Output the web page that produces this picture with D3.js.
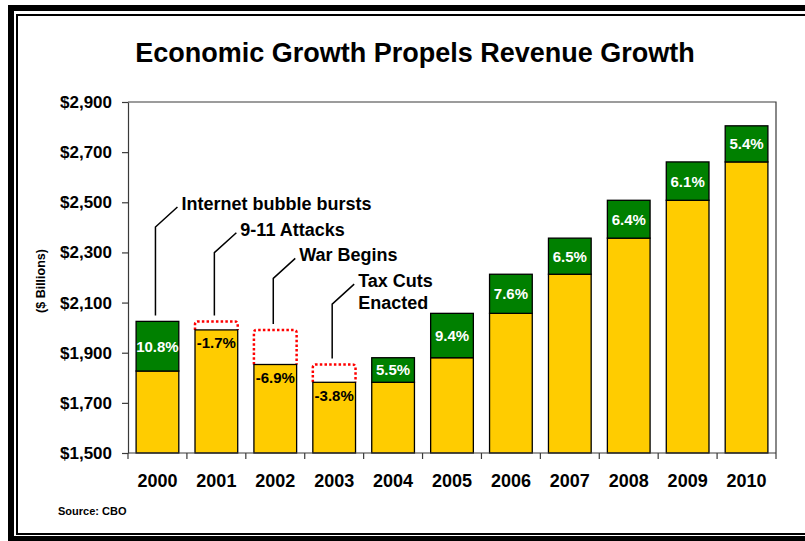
<!DOCTYPE html>
<html>
<head>
<meta charset="utf-8">
<script src="https://cdn.jsdelivr.net/npm/d3@7"></script>
<style>
  html, body { margin: 0; padding: 0; background: #fff; }
  svg { display: block; font-family: "Liberation Sans", Arial, sans-serif; font-weight: bold; }
</style>
</head>
<body>
<svg id="chart" width="805" height="541"></svg>
<script>
// Federal revenue, $ billions (year-end values; 1999 is the base for 2000 growth)
const years = ["2000", "2001", "2002", "2003", "2004", "2005", "2006", "2007", "2008", "2009", "2010"];
const baseRevenue = 1827;
const revenue = [2025, 1991, 1853, 1782, 1880, 2057, 2213, 2357, 2508, 2661, 2805];
const growthPct = [10.8, -1.7, -6.9, -3.8, 5.5, 9.4, 7.6, 6.5, 6.4, 6.1, 5.4];
const yTicks = [1500, 1700, 1900, 2100, 2300, 2500, 2700, 2900];
const callouts = [
  { year: "2000", lines: ["Internet bubble bursts"] },
  { year: "2001", lines: ["9-11 Attacks"] },
  { year: "2002", lines: ["War Begins"] },
  { year: "2003", lines: ["Tax Cuts", "Enacted"] }
];
const chartTitle = "Economic Growth Propels Revenue Growth";
const yTitle = "($ Billions)";
const sourceNote = "Source: CBO";

const svg = d3.select("#chart");
const plotL = 128, plotR = 776, plotT = 102, plotB = 453;
const gold = "#FFCC00", green = "#008000", axisColor = "#3a3a3a";

// Double frame around the slide
svg.append("rect").attr("x", 11).attr("y", 8).attr("width", 900).attr("height", 531)
  .attr("fill", "none").attr("stroke", "#000").attr("stroke-width", 6);
svg.append("rect").attr("x", 17).attr("y", 15).attr("width", 900).attr("height", 519)
  .attr("fill", "none").attr("stroke", "#000").attr("stroke-width", 2);

svg.append("text").attr("x", 415).attr("y", 62).attr("text-anchor", "middle")
  .attr("font-size", 27).attr("fill", "#000").text(chartTitle);

const x = d3.scaleBand().domain(years).range([plotL, plotR])
  .paddingInner(0.275).paddingOuter(0.1375);
const y = d3.scaleLinear().domain([1500, 2900]).range([plotB, plotT]);
const bw = x.bandwidth();
const step = x.step();

// Plot-area border (top and right)
svg.append("path").attr("d", `M${plotL},${plotT}H${plotR}V${plotB}`)
  .attr("fill", "none").attr("stroke", axisColor).attr("stroke-width", 1.2);

// Y axis
const yAxis = svg.append("g").attr("transform", `translate(${plotL},0)`)
  .call(d3.axisLeft(y).tickValues(yTicks).tickSize(6).tickSizeOuter(0).tickPadding(10)
    .tickFormat(d => "$" + d3.format(",")(d)));
yAxis.selectAll("path, line").attr("stroke", axisColor).attr("stroke-width", 1.2);
yAxis.selectAll("text").attr("font-size", 17).attr("fill", "#000")
  .attr("font-family", "Liberation Sans, Arial, sans-serif").attr("font-weight", "bold");

svg.append("text").attr("transform", "translate(45,281) rotate(-90)")
  .attr("text-anchor", "middle").attr("font-size", 12.5).attr("fill", "#000").text(yTitle);

// Bars: gold base up to the lower of the two years, green for growth, dotted outline for decline
const rows = years.map((yr, i) => {
  const prev = i === 0 ? baseRevenue : revenue[i - 1];
  return { year: yr, prev, cur: revenue[i], pct: growthPct[i] };
});

const bars = svg.append("g");
rows.forEach(r => {
  const x0 = x(r.year);
  const base = Math.min(r.prev, r.cur);
  if (r.cur < r.prev) {
    const yt = y(r.prev), yb = y(r.cur), rr = 3;
    bars.append("path")
      .attr("d", `M${x0},${yb}V${yt + rr}Q${x0},${yt} ${x0 + rr},${yt}H${x0 + bw - rr}Q${x0 + bw},${yt} ${x0 + bw},${yt + rr}V${yb}`)
      .attr("fill", "none").attr("stroke", "#ff0000").attr("stroke-width", 2.5)
      .attr("stroke-dasharray", "2.5 2.2");
  }
  bars.append("rect").attr("x", x0).attr("y", y(base)).attr("width", bw)
    .attr("height", y(1500) - y(base)).attr("fill", gold)
    .attr("stroke", "#000").attr("stroke-width", 1.3);
  if (r.cur > r.prev) {
    bars.append("rect").attr("x", x0).attr("y", y(r.cur)).attr("width", bw)
      .attr("height", y(r.prev) - y(r.cur)).attr("fill", green)
      .attr("stroke", "#000").attr("stroke-width", 1.3);
    bars.append("text").attr("x", x0 + bw / 2).attr("y", (y(r.cur) + y(r.prev)) / 2)
      .attr("dy", "0.36em").attr("text-anchor", "middle").attr("font-size", 15)
      .attr("fill", "#fff").text(r.pct.toFixed(1) + "%");
  } else {
    bars.append("text").attr("x", x0 + bw / 2).attr("y", y(r.cur) + 13)
      .attr("dy", "0.36em").attr("text-anchor", "middle").attr("font-size", 15)
      .attr("fill", "#000").text(r.pct.toFixed(1) + "%");
  }
});

// X axis: baseline, boundary ticks, year labels
svg.append("line").attr("x1", plotL).attr("x2", plotR).attr("y1", plotB).attr("y2", plotB)
  .attr("stroke", axisColor).attr("stroke-width", 1.2);
const bounds = years.map(yr => x(yr) - (step - bw) / 2).concat([plotR]);
svg.append("g").selectAll("line").data(bounds).join("line")
  .attr("x1", d => d).attr("x2", d => d).attr("y1", plotB).attr("y2", plotB + 6)
  .attr("stroke", axisColor).attr("stroke-width", 1.2);
const xAxis = svg.append("g").attr("transform", `translate(0,${plotB})`)
  .call(d3.axisBottom(x).tickSize(0).tickPadding(21));
xAxis.select(".domain").remove();
xAxis.selectAll("text").attr("font-size", 18).attr("fill", "#000")
  .attr("font-family", "Liberation Sans, Arial, sans-serif").attr("font-weight", "bold");

// Event callouts with elbow leader lines
const calloutTop = 227, calloutStep = 25.7;
callouts.forEach((c, i) => {
  const r = rows.find(d => d.year === c.year);
  const lx = x(c.year) + bw / 2 - 2;
  const ly = y(Math.max(r.prev, r.cur)) - 6;
  const ey = calloutTop + i * calloutStep;
  svg.append("path").attr("d", `M${lx},${ly}V${ey}L${lx + 22},${ey - 20}`)
    .attr("fill", "none").attr("stroke", "#000").attr("stroke-width", 1.5);
  const t = svg.append("text").attr("x", lx + 26).attr("y", ey - 17)
    .attr("font-size", 18).attr("fill", "#000");
  c.lines.forEach((ln, j) => {
    t.append("tspan").attr("x", lx + 26).attr("dy", j === 0 ? 0 : 22).text(ln);
  });
});

svg.append("text").attr("x", 58).attr("y", 515).attr("font-size", 11)
  .attr("fill", "#000").text(sourceNote);
</script>
</body>
</html>
